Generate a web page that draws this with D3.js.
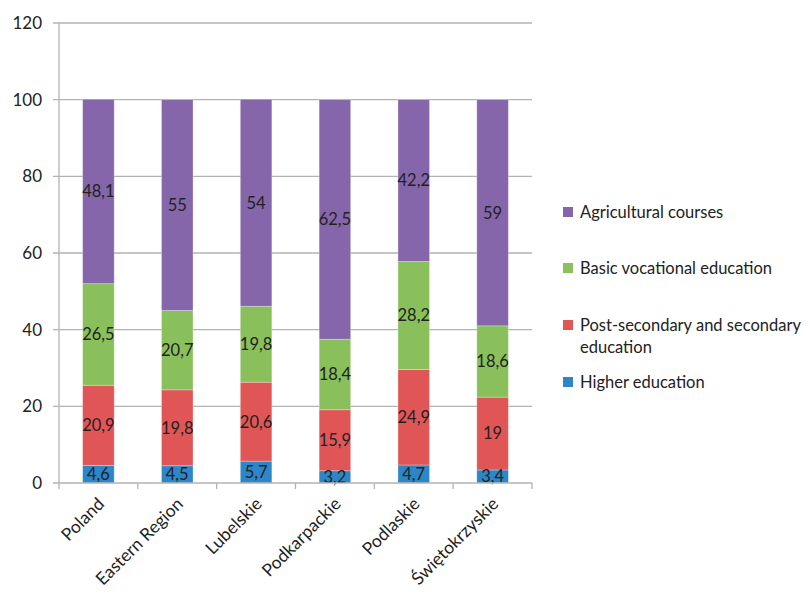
<!DOCTYPE html>
<html><head><meta charset="utf-8">
<script src="https://cdn.jsdelivr.net/npm/d3@7"></script>
<style>body{margin:0;background:#fff}text{font-family:Lato,"Open Sans",sans-serif}</style>
</head><body><svg id="c" width="810" height="596"></svg>
<script>
const categories = ["Poland","Eastern Region","Lubelskie","Podkarpackie","Podlaskie","Świętokrzyskie"];
const higher = [4.6,4.5,5.7,3.2,4.7,3.4];
const postSecondary = [20.9,19.8,20.6,15.9,24.9,19];
const basicVocational = [26.5,20.7,19.8,18.4,28.2,18.6];
const agricultural = [48.1,55,54,62.5,42.2,59];
const yTicks = [0,20,40,60,80,100,120];
const seriesNames = ["Higher education","Post-secondary and secondary education","Basic vocational education","Agricultural courses"];
const colors = ["#2c86c8","#e05656","#89c05c","#8566aa"];

const svg = d3.select("#c");
const x = d3.scaleBand().domain(categories).range([59,532]).paddingInner(0.6).paddingOuter(0.3);
const y = d3.scaleLinear().domain([0,120]).range([483,23]);

// gridlines
svg.append("g").selectAll("line").data(yTicks.filter(d=>d>0)).join("line")
  .attr("x1",53).attr("x2",532).attr("y1",d=>y(d)).attr("y2",d=>y(d))
  .attr("stroke","#b3b3b3").attr("stroke-width",1.3);

const stackData = categories.map((c,i)=>({cat:c, s0:higher[i], s1:postSecondary[i], s2:basicVocational[i], s3:agricultural[i]}));
const stack = d3.stack().keys(["s0","s1","s2","s3"])(stackData);

const g = svg.append("g");
stack.forEach((layer,li)=>{
  g.append("g").selectAll("rect").data(layer).join("rect")
    .attr("x",d=>x(d.data.cat)).attr("width",x.bandwidth())
    .attr("y",d=>y(d[1])).attr("height",d=>y(d[0])-y(d[1]))
    .attr("fill",colors[li]).attr("stroke","#ffffff").attr("stroke-opacity",0.35).attr("stroke-width",0.8);
});
stack.forEach((layer,li)=>{
  g.append("g").selectAll("text").data(layer).join("text")
    .attr("x",d=>x(d.data.cat)+x.bandwidth()/2)
    .attr("y",d=>(y(d[0])+y(d[1]))/2)
    .attr("dy","0.36em").attr("text-anchor","middle")
    .attr("font-size",16.5).attr("fill","#222")
    .text(d=>String(d.data["s"+li]).replace(".",","));
});

// y axis
svg.append("line").attr("x1",59).attr("x2",59).attr("y1",23).attr("y2",483).attr("stroke","#b3b3b3").attr("stroke-width",1.3);
svg.append("g").selectAll("text").data(yTicks).join("text")
  .attr("x",42).attr("y",d=>y(d)).attr("dy","0.36em").attr("text-anchor","end")
  .attr("font-size",17).attr("fill","#222").text(d=>d);

// x axis
svg.append("line").attr("x1",53).attr("x2",532).attr("y1",483).attr("y2",483).attr("stroke","#b3b3b3").attr("stroke-width",1.3);
const step = x.step();
const bounds = d3.range(categories.length+1).map(i=>59+i*step);
svg.append("g").selectAll("line").data(bounds).join("line")
  .attr("x1",d=>d).attr("x2",d=>d).attr("y1",483).attr("y2",489)
  .attr("stroke","#b3b3b3").attr("stroke-width",1.3);
svg.append("g").selectAll("text").data(categories).join("text")
  .attr("transform",d=>`translate(${x(d)+x.bandwidth()/2+7},${505}) rotate(-45)`)
  .attr("text-anchor","end").attr("font-size",17.5).attr("fill","#222").text(d=>d);

// legend
const legend = [
  {c:3, y:212, lines:["Agricultural courses"]},
  {c:2, y:268, lines:["Basic vocational education"]},
  {c:1, y:325, lines:["Post-secondary and secondary","education"]},
  {c:0, y:382, lines:["Higher education"]}
];
const lg = svg.append("g");
legend.forEach(l=>{
  lg.append("rect").attr("x",563).attr("y",l.y-5).attr("width",10).attr("height",10).attr("fill",colors[l.c]);
  l.lines.forEach((t,i)=>{
    lg.append("text").attr("x",580).attr("y",l.y+i*22).attr("dy","0.36em")
      .attr("font-size",16.5).attr("fill","#222").text(t);
  });
});
</script></body></html>
